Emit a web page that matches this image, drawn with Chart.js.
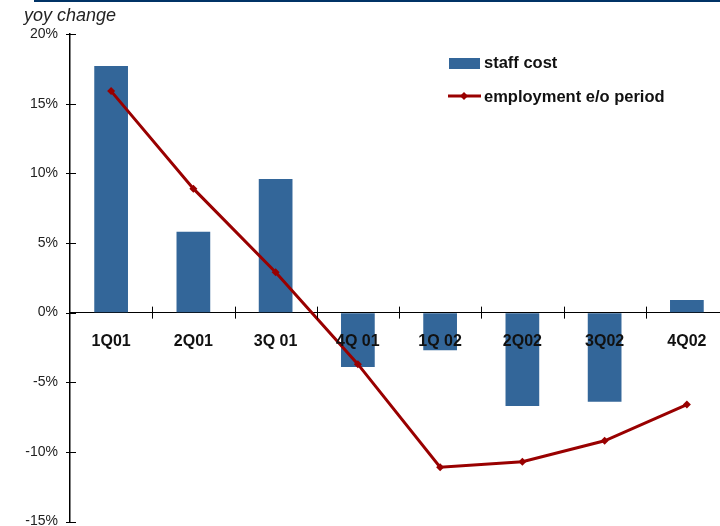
<!DOCTYPE html>
<html>
<head>
    <title>yoy change</title>
    <script src="https://cdn.jsdelivr.net/npm/chart.js"></script>
    <style>
        html, body { margin: 0; padding: 0; background: #fff; overflow: hidden; }
        canvas { display: block; }
    </style>
</head>
<body>
    <canvas id="costChart" width="728" height="542"></canvas>
    <script>
        // quarterly yoy change, %
        const quarters = ['1Q01', '2Q01', '3Q 01', '4Q 01', '1Q 02', '2Q02', '3Q02', '4Q02'];
        const staffCost = [17.7, 5.8, 9.6, -3.9, -2.7, -6.7, -6.4, 0.9];
        const employment = [15.9, 8.9, 2.9, -3.7, -11.1, -10.7, -9.2, -6.6];
        const yTicks = [-15, -10, -5, 0, 5, 10, 15, 20];

        const barColor = '#336699';
        const lineColor = '#990000';
        const fontFamily = 'Arial, "Liberation Sans", sans-serif';

        Chart.defaults.font.family = fontFamily;

        // header rule, italic axis caption and the legend box
        const decor = {
            id: 'decor',
            afterDraw(chart) {
                const ctx = chart.ctx;
                ctx.save();
                ctx.fillStyle = '#003366';
                ctx.fillRect(34, 0, 700, 2);

                ctx.fillStyle = '#222';
                ctx.font = 'italic 18px ' + fontFamily;
                ctx.textBaseline = 'alphabetic';
                ctx.fillText('yoy change', 24, 21);

                const ds = chart.data.datasets;
                ctx.font = 'bold 16.5px ' + fontFamily;
                ctx.textBaseline = 'middle';
                ctx.fillStyle = ds[1].backgroundColor;
                ctx.fillRect(449, 58, 31, 11);
                ctx.fillStyle = '#111';
                ctx.fillText(ds[1].label, 484, 63);

                ctx.strokeStyle = ds[0].borderColor;
                ctx.lineWidth = 3;
                ctx.beginPath();
                ctx.moveTo(448, 96);
                ctx.lineTo(481, 96);
                ctx.stroke();
                ctx.fillStyle = ds[0].borderColor;
                ctx.beginPath();
                ctx.moveTo(464, 92);
                ctx.lineTo(468, 96);
                ctx.lineTo(464, 100);
                ctx.lineTo(460, 96);
                ctx.closePath();
                ctx.fill();
                ctx.fillStyle = '#111';
                ctx.fillText(ds[0].label, 484, 97);
                ctx.restore();
            }
        };

        // tick marks that cross the axis lines
        const crossTicks = {
            id: 'crossTicks',
            afterDraw(chart) {
                const ctx = chart.ctx;
                const x = chart.scales.x;
                const y = chart.scales.y;
                const y0 = y.getPixelForValue(0);
                const xl = x.left;
                ctx.save();
                ctx.strokeStyle = '#000';
                ctx.lineWidth = 1;
                ctx.beginPath();
                const step = x.getPixelForValue(1) - x.getPixelForValue(0);
                for (let i = 1; i < quarters.length; i++) {
                    const px = Math.round(x.getPixelForValue(i) - step / 2) + 0.5;
                    ctx.moveTo(px, y0 - 6);
                    ctx.lineTo(px, y0 + 6);
                }
                yTicks.forEach(v => {
                    const py = Math.round(y.getPixelForValue(v)) + 0.5;
                    ctx.moveTo(xl - 4, py);
                    ctx.lineTo(xl + 6, py);
                });
                ctx.stroke();
                ctx.restore();
            }
        };

        new Chart(document.getElementById('costChart').getContext('2d'), {
            data: {
                labels: quarters,
                datasets: [{
                    type: 'line',
                    label: 'employment e/o period',
                    data: employment,
                    borderColor: lineColor,
                    backgroundColor: lineColor,
                    borderWidth: 3,
                    pointStyle: 'rectRot',
                    pointRadius: 4,
                    pointBorderWidth: 0,
                    tension: 0,
                    order: 0
                }, {
                    type: 'bar',
                    label: 'staff cost',
                    data: staffCost,
                    backgroundColor: barColor,
                    categoryPercentage: 1,
                    barPercentage: 0.41,
                    order: 1
                }]
            },
            options: {
                responsive: false,
                devicePixelRatio: 1,
                animation: false,
                layout: { autoPadding: false, padding: { left: 0, right: 0, top: 34, bottom: 4 } },
                plugins: {
                    legend: { display: false },
                    tooltip: { enabled: false }
                },
                scales: {
                    x: {
                        position: { y: 0 },
                        offset: true,
                        grid: { display: true, drawOnChartArea: false, drawTicks: false },
                        border: { color: '#000', width: 1 },
                        ticks: {
                            z: 1,
                            padding: 19,
                            color: '#111',
                            font: { size: 16, weight: 'bold' },
                            maxRotation: 0,
                            autoSkip: false
                        }
                    },
                    y: {
                        min: -15,
                        max: 20,
                        afterFit(scale) { scale.width = 70; },
                        afterBuildTicks(scale) { scale.ticks = yTicks.map(v => ({ value: v })); },
                        grid: { display: true, drawOnChartArea: false, drawTicks: false },
                        border: { color: '#000', width: 1.5 },
                        ticks: {
                            padding: 12,
                            color: '#222',
                            font: { size: 14 },
                            callback: v => v + '%'
                        }
                    }
                }
            },
            plugins: [decor, crossTicks]
        });
    </script>
</body>
</html>
